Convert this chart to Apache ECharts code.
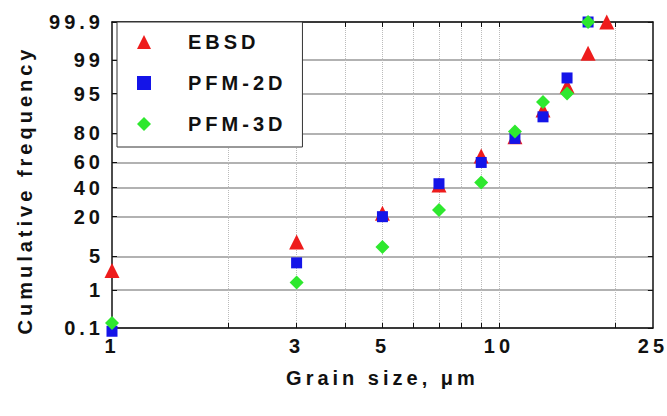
<!DOCTYPE html>
<html>
<head>
<meta charset="utf-8">
<script src="https://cdn.jsdelivr.net/npm/echarts@6/dist/echarts.min.js"></script>
<style>
  html, body { margin: 0; padding: 0; background: #fff; }
  #chart { width: 667px; height: 416px; }
  /* the figure uses widely spaced lettering */
  #chart text { letter-spacing: 4px; }
</style>
</head>
<body>
<div id="chart"></div>
<script>
// grain size (um) of each point
const ebsdSize = [1, 3, 5, 7, 9, 11, 13, 15, 17, 19]
const pfmSize = [1, 3, 5, 7, 9, 11, 13, 15, 17]

// cumulative frequency (%)
const ebsdFreq = [2.7, 8.8, 22, 42, 65, 78, 90.5, 96.4, 99.3, 99.9]
const pfm2dFreq = [0.08, 3.8, 20, 43, 60, 77, 88, 97.5, 99.9]
const pfm3dFreq = [0.14, 1.5, 7.3, 24, 44, 81, 93, 95, 99.9]

// axis ticks
const freqTicks = [0.1, 1, 5, 20, 40, 60, 80, 95, 99, 99.9]
const sizeLabels = [1, 3, 5, 10, 25]
const sizeTicks = [2, 3, 4, 5, 6, 7, 8, 9, 10, 20]

// inverse normal CDF (Acklam), used for the probability scale
function probit(p) {
  const a = [-39.69683028665376, 220.9460984245205, -275.9285104469687, 138.3577518672690, -30.66479806614716, 2.506628277459239]
  const b = [-54.47609879822406, 161.5858368580409, -155.6989798598866, 66.80131188771972, -13.28068155288572]
  const c = [-0.007784894002430293, -0.3223964580411365, -2.400758277161838, -2.549732539343734, 4.374664141464968, 2.938163982698783]
  const d = [0.007784695709041462, 0.3224671290700398, 2.445134137142996, 3.754408661907416]
  const pl = 0.02425
  let q, r
  if (p < pl) {
    q = Math.sqrt(-2 * Math.log(p))
    return (((((c[0] * q + c[1]) * q + c[2]) * q + c[3]) * q + c[4]) * q + c[5]) /
      ((((d[0] * q + d[1]) * q + d[2]) * q + d[3]) * q + 1)
  }
  if (p <= 1 - pl) {
    q = p - 0.5
    r = q * q
    return (((((a[0] * r + a[1]) * r + a[2]) * r + a[3]) * r + a[4]) * r + a[5]) * q /
      (((((b[0] * r + b[1]) * r + b[2]) * r + b[3]) * r + b[4]) * r + 1)
  }
  q = Math.sqrt(-2 * Math.log(1 - p))
  return -(((((c[0] * q + c[1]) * q + c[2]) * q + c[3]) * q + c[4]) * q + c[5]) /
    ((((d[0] * q + d[1]) * q + d[2]) * q + d[3]) * q + 1)
}

const z = pct => probit(pct / 100)
const toPoints = (sizes, freqs) => sizes.map((s, i) => [s, z(freqs[i])])

const font = {
  fontFamily: 'Liberation Sans, Arial, sans-serif',
  fontWeight: 'bold',
  fontSize: 20,
  color: '#111'
}

const freqLabel = v => {
  const t = freqTicks.find(t => Math.abs(z(t) - v) < 1e-9)
  return t === undefined ? '' : String(t)
}

const chart = echarts.init(document.getElementById('chart'), null, { renderer: 'svg' })

const option = {
  animation: false,
  backgroundColor: '#fff',
  grid: { left: 112, right: 11, top: 22, bottom: 88 },
  legend: {
    data: ['EBSD', 'PFM-2D', 'PFM-3D'],
    orient: 'vertical',
    left: 117,
    top: 22,
    padding: [10, 40, 13, 20],
    itemWidth: 14,
    itemHeight: 14,
    itemGap: 21,
    backgroundColor: '#fff',
    borderColor: '#333',
    borderWidth: 1,
    textStyle: { ...font, padding: [0, 0, 0, 32] }
  },
  xAxis: [
    {
      type: 'log',
      logBase: 10,
      min: 1,
      max: 25,
      position: 'bottom',
      axisLine: { onZero: false, lineStyle: { color: '#111', width: 1.5 } },
      axisTick: { inside: true, length: 5, customValues: sizeTicks, lineStyle: { color: '#111' } },
      axisLabel: { ...font, margin: 8, customValues: sizeLabels, formatter: v => String(Math.round(v)) },
      splitLine: { show: true, lineStyle: { color: '#bbb', type: 'dotted', width: 1 } },
      name: 'Grain size, μm',
      nameLocation: 'middle',
      nameGap: 40,
      nameTextStyle: font
    },
    {
      type: 'log',
      logBase: 10,
      min: 1,
      max: 25,
      position: 'top',
      axisLine: { onZero: false, lineStyle: { color: '#111', width: 1.5 } },
      axisTick: { inside: true, length: 5, customValues: sizeTicks, lineStyle: { color: '#111' } },
      axisLabel: { show: false },
      splitLine: { show: false }
    }
  ],
  yAxis: [
    {
      type: 'value',
      min: z(freqTicks[0]),
      max: z(freqTicks[freqTicks.length - 1]),
      position: 'left',
      axisLine: { show: true, onZero: false, lineStyle: { color: '#111', width: 1.5 } },
      axisTick: { show: true, inside: true, length: 5, customValues: freqTicks.map(z), lineStyle: { color: '#111' } },
      axisLabel: { ...font, margin: 8, customValues: freqTicks.map(z), formatter: freqLabel },
      splitLine: { show: true, lineStyle: { color: '#999', width: 1.5 } },
      name: 'Cumulative frequency',
      nameLocation: 'middle',
      nameGap: 77,
      nameTextStyle: { ...font, padding: [0, 30, 0, 0] }
    },
    {
      type: 'value',
      min: z(freqTicks[0]),
      max: z(freqTicks[freqTicks.length - 1]),
      position: 'right',
      axisLine: { show: true, onZero: false, lineStyle: { color: '#111', width: 1.5 } },
      axisTick: { show: true, inside: true, length: 5, customValues: freqTicks.map(z), lineStyle: { color: '#111' } },
      axisLabel: { show: false },
      splitLine: { show: false }
    }
  ],
  series: [
    {
      name: 'EBSD',
      type: 'scatter',
      symbol: 'triangle',
      symbolSize: 15,
      clip: false,
      itemStyle: { color: '#ee1c1c', opacity: 1 },
      data: toPoints(ebsdSize, ebsdFreq)
    },
    {
      name: 'PFM-2D',
      type: 'scatter',
      symbol: 'rect',
      symbolSize: 11,
      clip: false,
      itemStyle: { color: '#1414e8', opacity: 1 },
      data: toPoints(pfmSize, pfm2dFreq)
    },
    {
      name: 'PFM-3D',
      type: 'scatter',
      symbol: 'diamond',
      symbolSize: 14,
      clip: false,
      itemStyle: { color: '#2ee82e', opacity: 1 },
      data: toPoints(pfmSize, pfm3dFreq)
    }
  ]
}

chart.setOption(option)
</script>
</body>
</html>
